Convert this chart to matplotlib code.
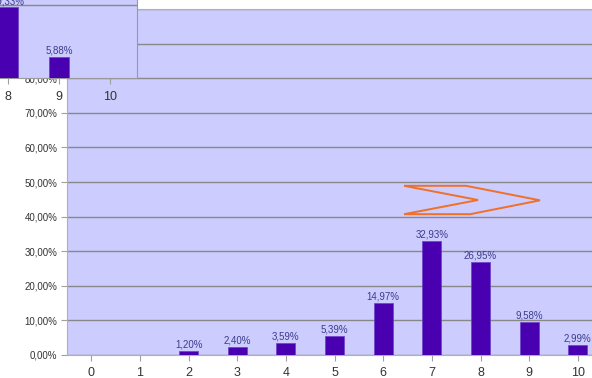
import numpy as np
import matplotlib.pyplot as plt
from matplotlib.patches import Polygon

plt.rcParams['font.family'] = ['Liberation Sans', 'DejaVu Sans']

# main chart data (percent)
notes = [0, 1, 2, 3, 4, 5, 6, 7, 8, 9, 10]
shares = [0, 0, 1.20, 2.40, 3.59, 5.39, 14.97, 32.93, 26.95, 9.58, 2.99]
y_ticks = [0, 10, 20, 30, 40, 50, 60, 70, 80, 90, 100]

# piece of the other chart pasted in the top-left corner
inset_notes = [8, 9]
inset_shares = [19.33, 5.88]
inset_ticks = [8, 9, 10]

W, H = 592, 378
bg = '#CCCCFF'
bar_col = '#4800B0'
lab_col = '#3C3C8C'
grid_col = '#888888'

def pct(v):
    return f'{v:.2f}%'.replace('.', ',')

fig = plt.figure(figsize=(W / 100, H / 100), dpi=100)
fig.patch.set_facecolor('white')

# main axes in pixel box: x 67..592, y 9..355 (from top)
ax = fig.add_axes([67 / W, (H - 355) / H, (592 - 67) / W, (355 - 9) / H])
ax.set_facecolor(bg)
ax.set_xlim(-0.5, 10.29)
ax.set_ylim(0, 100)
ax.set_yticks(y_ticks)
ax.set_yticklabels([pct(v) for v in y_ticks], fontsize=7, color='#333333')
ax.set_xticks(notes)
ax.set_xticklabels([str(n) for n in notes], fontsize=9, color='#333333')
ax.tick_params(axis='both', length=4, color='#A0A0A0', pad=3)
ax.tick_params(axis='x', pad=5)
ax.yaxis.grid(True, color=grid_col, lw=1)
ax.set_axisbelow(True)
for s in ['left', 'bottom', 'top']:
    ax.spines[s].set_color('#B0B0B0')
ax.spines['right'].set_visible(False)

bars = ax.bar(notes, shares, width=0.39, color=bar_col, edgecolor='#6A40C8', lw=0.5, zorder=3)
ax.bar_label(bars, labels=[pct(v) if v > 0 else '' for v in shares],
             padding=1, fontsize=7, color=lab_col)

# orange double chevron (axes fraction)
chev = [(0.642, 0.489), (0.760, 0.489), (0.901, 0.447), (0.768, 0.407),
        (0.642, 0.407), (0.783, 0.448)]
ax.add_patch(Polygon(chev, closed=True, fill=False, edgecolor='#F07028', lw=1.4,
                     transform=ax.transAxes, zorder=4))

# inset: x 0..137, y 0..78 (from top)
ia = fig.add_axes([0, (H - 78) / H, 137 / W, 78 / H], zorder=5)
ia.set_facecolor(bg)
ia.set_xlim(7.84, 10.53)
ia.set_ylim(0, 78 / 3.65)
ia.set_yticks([20])
ia.tick_params(axis='y', length=0, labelleft=False)
ia.yaxis.grid(True, color=grid_col, lw=1)
ia.set_axisbelow(True)
ia.set_xticks(inset_ticks)
ia.set_xticklabels([str(n) for n in inset_ticks], fontsize=9, color='#333333')
ia.tick_params(axis='x', length=4, color='#A0A0A0', pad=5)
ia.spines['left'].set_visible(False)
ia.spines['top'].set_visible(False)
ia.spines['right'].set_color('#999999')
ia.spines['bottom'].set_color('#999999')
ib = ia.bar(inset_notes, inset_shares, width=0.38, color=bar_col, edgecolor='#6A40C8', lw=0.5, zorder=3)
ia.bar_label(ib, labels=[pct(v) for v in inset_shares], padding=1, fontsize=7,
             color=lab_col, clip_on=False)

fig.savefig('out.png', dpi=100)
